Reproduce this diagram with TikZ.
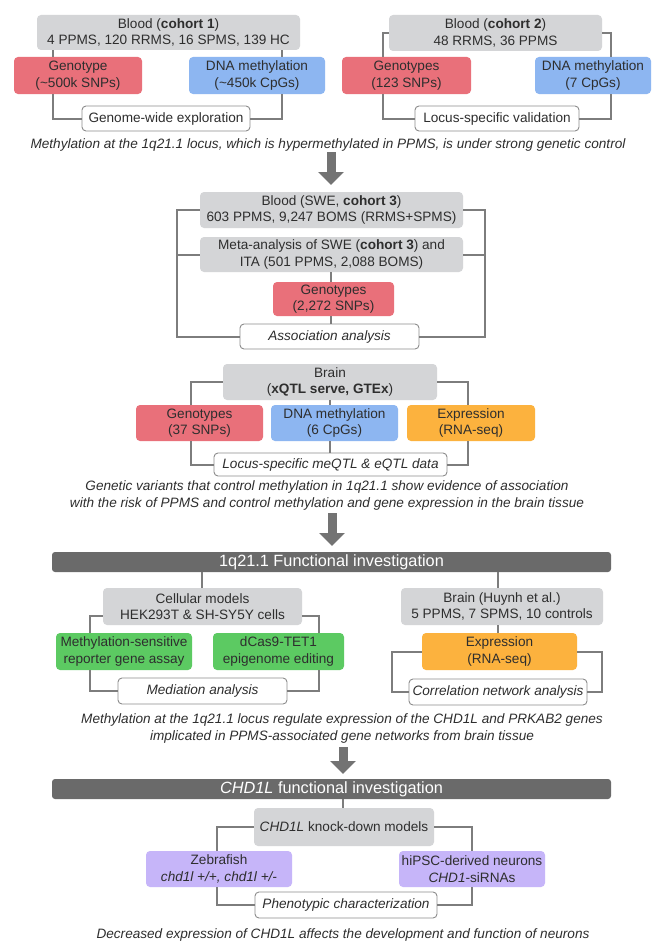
\documentclass[tikz,border=0pt]{standalone}
\usepackage{fontspec}
\setmainfont{Liberation Sans}
\usetikzlibrary{arrows.meta,calc}
\definecolor{boxgrey}{HTML}{D4D5D7}
\definecolor{boxred}{HTML}{E9707A}
\definecolor{boxblue}{HTML}{8DB6F1}
\definecolor{boxorange}{HTML}{FCB23E}
\definecolor{boxgreen}{HTML}{5CCA62}
\definecolor{boxpurple}{HTML}{C6B5F9}
\definecolor{barc}{HTML}{6A6A6A}
\definecolor{connc}{HTML}{7D7D7D}
\definecolor{arrowc}{HTML}{737373}
\definecolor{wborder}{HTML}{8C8C8C}
\definecolor{txt}{HTML}{2E2E2E}
\tikzset{
  fbox/.style={rounded corners=4pt, inner sep=0pt, align=center, text=txt,
    font=\fontsize{13.6}{16.5}\selectfont},
  gbox/.style={fbox, fill=boxgrey},
  rbox/.style={fbox, fill=boxred},
  bbox/.style={fbox, fill=boxblue},
  obox/.style={fbox, fill=boxorange},
  grbox/.style={fbox, fill=boxgreen},
  pbox/.style={fbox, fill=boxpurple},
  wbox/.style={fbox, draw=wborder, line width=0.9pt, fill=white},
  wibox/.style={wbox, font=\fontsize{13.6}{16.5}\selectfont\itshape},
  conn/.style={draw=connc, line width=2pt},
  bigarrow/.style={draw=arrowc, line width=9pt, -{Triangle[width=25pt,length=13pt]}},
  barbox/.style={fill=barc, rounded corners=3pt, inner sep=0pt, text=white,
    font=\fontsize{16.3}{19}\selectfont},
  captxt/.style={align=center, inner sep=0pt, text=txt, font=\fontsize{13.6}{17}\selectfont\itshape},
}
\begin{document}
\begin{tikzpicture}[x=1pt,y=-1pt]
\useasboundingbox (0,0) rectangle (654,942);
\fill[white] (0,0) rectangle (654,942);

% ---------- Section 1 ----------
\node[gbox, minimum width=263pt, minimum height=35pt] (b1) at (168.5,32.5)
  {Blood (\textbf{cohort 1})\\4 PPMS, 120 RRMS, 16 SPMS, 139 HC};
\node[rbox, minimum width=128pt, minimum height=37pt] (g1) at (78,75.5) {Genotype\\(\textasciitilde500k SNPs)};
\node[bbox, minimum width=136pt, minimum height=37pt] (m1) at (257,75.5) {DNA methylation\\(\textasciitilde450k CpGs)};
\node[wbox, minimum width=168pt, minimum height=25pt] (e1) at (166,118.5) {Genome-wide exploration};
\coordinate (L1) at (53,0); \coordinate (R1) at (282,0);
\draw[conn] (b1.south -| L1) -- (g1.north -| L1);
\draw[conn] (g1.south -| L1) -- (L1 |- e1.west) -- (e1.west);
\draw[conn] (b1.south -| R1) -- (m1.north -| R1);
\draw[conn] (m1.south -| R1) -- (R1 |- e1.east) -- (e1.east);

\node[gbox, minimum width=213pt, minimum height=36pt] (b2) at (495.5,33)
  {Blood (\textbf{cohort 2})\\48 RRMS, 36 PPMS};
\node[rbox, minimum width=129pt, minimum height=37pt] (g2) at (406.5,75.5) {Genotypes\\(123 SNPs)};
\node[bbox, minimum width=116pt, minimum height=37pt] (m2) at (593,75.5) {DNA methylation\\(7 CpGs)};
\node[wbox, minimum width=164pt, minimum height=25pt] (e2) at (497,118.5) {Locus-specific validation};
\coordinate (L2) at (383,0); \coordinate (R2) at (611,0);
\draw[conn] (b2.west) -- (b2.west -| L2) -- (g2.north -| L2);
\draw[conn] (g2.south -| L2) -- (L2 |- e2.west) -- (e2.west);
\draw[conn] (b2.east) -- (b2.east -| R2) -- (m2.north -| R2);
\draw[conn] (m2.south -| R2) -- (R2 |- e2.east) -- (e2.east);

\node[captxt] (c1) at (328,145) {Methylation at the 1q21.1 locus, which is hypermethylated in PPMS, is under strong genetic control};

\coordinate (a1s) at (331,152); \coordinate (a1e) at (331,185);
\draw[bigarrow] (a1s) -- (a1e);

% ---------- Section 2 ----------
\node[gbox, minimum width=263pt, minimum height=36pt] (s1) at (331.5,210)
  {Blood (SWE, \textbf{cohort 3})\\603 PPMS, 9,247 BOMS (RRMS+SPMS)};
\node[gbox, minimum width=263pt, minimum height=35pt] (s2) at (331.5,254.5)
  {Meta-analysis of SWE (\textbf{cohort 3}) and\\ITA (501 PPMS, 2,088 BOMS)};
\node[rbox, minimum width=121pt, minimum height=34pt] (g3) at (333.5,299) {Genotypes\\(2,272 SNPs)};
\node[wibox, minimum width=179pt, minimum height=25pt] (a3) at (329.5,336.5) {Association analysis};
\coordinate (L3) at (177,0); \coordinate (R3) at (485,0); \coordinate (C3) at (331,0);
\draw[conn] (s1.west) -- (s1.west -| L3) -- (L3 |- a3.west) -- (a3.west);
\draw[conn] (s2.west) -- (s2.west -| L3);
\draw[conn] (s1.east) -- (s1.east -| R3) -- (R3 |- a3.east) -- (a3.east);
\draw[conn] (s2.east) -- (s2.east -| R3);
\draw[conn] (s2.south -| C3) -- (g3.north -| C3);
\draw[conn] (g3.south -| C3) -- (a3.north -| C3);

% ---------- Section 3 (brain) ----------
\node[gbox, minimum width=214pt, minimum height=36pt] (br) at (330,382)
  {Brain\\(\textbf{xQTL serve, GTEx})};
\node[rbox, minimum width=127pt, minimum height=36pt] (g4) at (199.5,423) {Genotypes\\(37 SNPs)};
\node[bbox, minimum width=127pt, minimum height=36pt] (m4) at (334.5,423) {DNA methylation\\(6 CpGs)};
\node[obox, minimum width=128pt, minimum height=36pt] (o4) at (471,423) {Expression\\(RNA-seq)};
\node[wibox, minimum width=233pt, minimum height=23pt] (l4) at (330.5,464.5) {Locus-specific meQTL \& eQTL data};
\coordinate (L4) at (191,0); \coordinate (R4) at (468,0); \coordinate (C4) at (330,0);
\draw[conn] (br.west) -- (br.west -| L4) -- (g4.north -| L4);
\draw[conn] (g4.south -| L4) -- (L4 |- l4.west) -- (l4.west);
\draw[conn] (br.east) -- (br.east -| R4) -- (o4.north -| R4);
\draw[conn] (o4.south -| R4) -- (R4 |- l4.east) -- (l4.east);
\draw[conn] (br.south -| C4) -- (m4.north -| C4);
\draw[conn] (m4.south -| C4) -- (l4.north -| C4);

\node[captxt] (c2) at (327,495) {Genetic variants that control methylation in 1q21.1 show evidence of association\\with the risk of PPMS and control methylation and gene expression in the brain tissue};

\coordinate (a2s) at (332,513); \coordinate (a2e) at (332,546);
\draw[bigarrow] (a2s) -- (a2e);

% ---------- Section 4 (1q21.1 functional) ----------
\node[barbox, minimum width=559pt, minimum height=20pt] (bar1) at (331.5,562) {1q21.1 Functional investigation};
\node[gbox, minimum width=199pt, minimum height=37pt] (cm) at (202.5,606.5)
  {Cellular models\\HEK293T \& SH-SY5Y cells};
\node[grbox, minimum width=136pt, minimum height=37pt] (gr1) at (124,651.5) {Methylation-sensitive\\reporter gene assay};
\node[grbox, minimum width=131pt, minimum height=37pt] (gr2) at (278.5,651.5) {dCas9-TET1\\epigenome editing};
\node[wibox, minimum width=169pt, minimum height=26pt] (med) at (202.5,691) {Mediation analysis};
\coordinate (L5) at (90,0); \coordinate (R5) at (319,0); \coordinate (C5) at (202,0);
\coordinate (cmw) at ($(cm.west)+(0,9.5)$); \coordinate (cme) at ($(cm.east)+(0,9.5)$);
\draw[conn] (bar1.south -| C5) -- (cm.north -| C5);
\draw[conn] (cmw) -- (cmw -| L5) -- (gr1.north -| L5);
\draw[conn] (gr1.south -| L5) -- (L5 |- med.west) -- (med.west);
\draw[conn] (cme) -- (cme -| R5) -- (gr2.north -| R5);
\draw[conn] (gr2.south -| R5) -- (R5 |- med.east) -- (med.east);

\node[gbox, minimum width=202pt, minimum height=37pt] (bh) at (502,606.5)
  {Brain (Huynh et al.)\\5 PPMS, 7 SPMS, 10 controls};
\node[obox, minimum width=155pt, minimum height=37pt] (o5) at (499.5,651.5) {Expression\\(RNA-seq)};
\node[wibox, minimum width=178pt, minimum height=26pt] (corr) at (498,692) {Correlation network analysis};
\coordinate (C6) at (498,0); \coordinate (L6) at (392,0); \coordinate (R6) at (602,0);
\draw[conn] (bar1.south -| C6) -- (bh.north -| C6);
\draw[conn] (bh.south -| C6) -- (o5.north -| C6);
\draw[conn] (o5.west) -- (o5.west -| L6) -- (L6 |- corr.west) -- (corr.west);
\draw[conn] (o5.east) -- (o5.east -| R6) -- (R6 |- corr.east) -- (corr.east);

\node[captxt] (c3) at (342,728) {Methylation at the 1q21.1 locus regulate expression of the CHD1L and PRKAB2 genes\\implicated in PPMS-associated gene networks from brain tissue};

\coordinate (a3s) at (343,747); \coordinate (a3e) at (343,774);
\draw[bigarrow] (a3s) -- (a3e);

% ---------- Section 5 (CHD1L) ----------
\node[barbox, minimum width=559pt, minimum height=20pt] (bar2) at (331.5,789) {\itshape CHD1L\upshape{} functional investigation};
\node[gbox, minimum width=180pt, minimum height=38pt] (kd) at (344,827) {\textit{CHD1L} knock-down models};
\node[pbox, minimum width=146pt, minimum height=36pt] (zf) at (219,869) {Zebrafish\\\textit{chd1l +/+, chd1l +/-}};
\node[pbox, minimum width=146pt, minimum height=36pt] (hp) at (472,869) {hiPSC-derived neurons\\\textit{CHD1}-siRNAs};
\node[wibox, minimum width=182pt, minimum height=26pt] (ph) at (346,905) {Phenotypic characterization};
\coordinate (C7) at (343,0); \coordinate (L7) at (217,0); \coordinate (R7) at (472,0);
\draw[conn] (bar2.south -| C7) -- (kd.north -| C7);
\draw[conn] (kd.west) -- (kd.west -| L7) -- (zf.north -| L7);
\draw[conn] (zf.south -| L7) -- (L7 |- ph.west) -- (ph.west);
\draw[conn] (kd.east) -- (kd.east -| R7) -- (hp.north -| R7);
\draw[conn] (hp.south -| R7) -- (R7 |- ph.east) -- (ph.east);

\node[captxt] (c4) at (343,935) {Decreased expression of CHD1L affects the development and function of neurons};
\end{tikzpicture}
\end{document}
